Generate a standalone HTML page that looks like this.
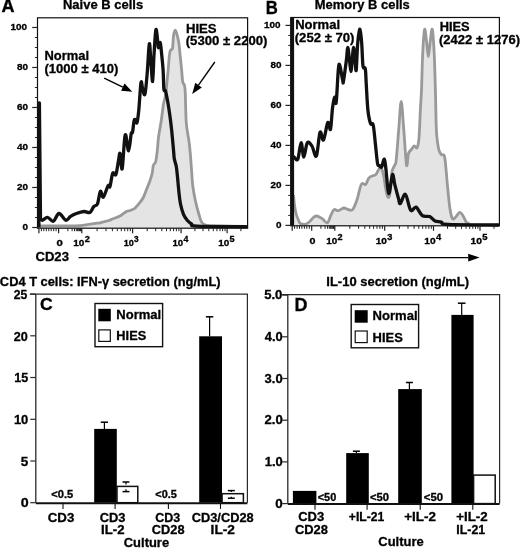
<!DOCTYPE html>
<html><head><meta charset="utf-8"><style>
html,body{margin:0;padding:0;background:#fff;}
body{width:520px;height:548px;overflow:hidden;font-family:"Liberation Sans",sans-serif;}
svg{display:block;filter:grayscale(100%);}
</style></head><body>
<svg width="520" height="548" viewBox="0 0 520 548">
<rect width="520" height="548" fill="#fff"/>
<g font-family="Liberation Sans, sans-serif" font-weight="bold" fill="#000">
<path d="M38.50,226.00 C42.08,225.98 53.08,225.97 60.00,225.90 C66.92,225.83 74.38,225.98 80.00,225.60 C85.62,225.22 90.37,224.07 93.70,223.60 C97.03,223.13 98.12,223.15 100.00,222.80 C101.88,222.45 103.50,221.88 105.00,221.50 C106.50,221.12 107.67,220.95 109.00,220.50 C110.33,220.05 111.17,219.55 113.00,218.80 C114.83,218.05 117.77,217.22 120.00,216.00 C122.23,214.78 124.73,212.42 126.40,211.50 C128.07,210.58 128.63,211.00 130.00,210.50 C131.37,210.00 132.93,209.85 134.60,208.50 C136.27,207.15 138.55,204.23 140.00,202.40 C141.45,200.57 142.20,199.70 143.30,197.50 C144.40,195.30 145.50,191.95 146.60,189.20 C147.70,186.45 148.95,183.73 149.90,181.00 C150.85,178.27 151.73,175.38 152.30,172.80 C152.87,170.22 152.75,167.30 153.30,165.50 C153.85,163.70 155.05,163.58 155.60,162.00 C156.15,160.42 156.28,158.17 156.60,156.00 C156.92,153.83 157.23,151.67 157.50,149.00 C157.77,146.33 157.90,142.83 158.20,140.00 C158.50,137.17 158.80,135.17 159.30,132.00 C159.80,128.83 160.50,125.67 161.20,121.00 C161.90,116.33 162.77,108.33 163.50,104.00 C164.23,99.67 165.03,98.58 165.60,95.00 C166.17,91.42 166.47,86.72 166.90,82.50 C167.33,78.28 167.77,74.38 168.20,69.70 C168.63,65.02 169.08,57.68 169.50,54.40 C169.92,51.12 170.20,50.98 170.70,50.00 C171.20,49.02 172.07,50.50 172.50,48.50 C172.93,46.50 173.03,40.65 173.30,38.00 C173.57,35.35 173.78,33.90 174.10,32.60 C174.42,31.30 174.82,30.23 175.20,30.20 C175.58,30.17 175.97,31.13 176.40,32.40 C176.83,33.67 177.37,35.83 177.80,37.80 C178.23,39.77 178.58,41.00 179.00,44.20 C179.42,47.40 179.87,52.75 180.30,57.00 C180.73,61.25 181.22,65.70 181.60,69.70 C181.98,73.70 182.28,78.68 182.60,81.00 C182.92,83.32 183.18,82.85 183.50,83.60 C183.82,84.35 184.22,84.20 184.50,85.50 C184.78,86.80 185.00,87.65 185.20,91.40 C185.40,95.15 185.50,102.50 185.70,108.00 C185.90,113.50 185.82,118.57 186.40,124.40 C186.98,130.23 188.52,137.73 189.20,143.00 C189.88,148.27 190.12,151.60 190.50,156.00 C190.88,160.40 191.12,164.40 191.50,169.40 C191.88,174.40 192.13,180.70 192.80,186.00 C193.47,191.30 194.40,196.20 195.50,201.20 C196.60,206.20 198.32,212.40 199.40,216.00 C200.48,219.60 200.90,221.25 202.00,222.80 C203.10,224.35 204.67,224.80 206.00,225.30 C207.33,225.80 203.33,225.63 210.00,225.80 C216.67,225.97 240.00,226.22 246.00,226.30 L246,228.2 L38.5,228.2 Z" fill="#e4e4e4" stroke="none"/>
<path d="M38.50,226.00 C42.08,225.98 53.08,225.97 60.00,225.90 C66.92,225.83 74.38,225.98 80.00,225.60 C85.62,225.22 90.37,224.07 93.70,223.60 C97.03,223.13 98.12,223.15 100.00,222.80 C101.88,222.45 103.50,221.88 105.00,221.50 C106.50,221.12 107.67,220.95 109.00,220.50 C110.33,220.05 111.17,219.55 113.00,218.80 C114.83,218.05 117.77,217.22 120.00,216.00 C122.23,214.78 124.73,212.42 126.40,211.50 C128.07,210.58 128.63,211.00 130.00,210.50 C131.37,210.00 132.93,209.85 134.60,208.50 C136.27,207.15 138.55,204.23 140.00,202.40 C141.45,200.57 142.20,199.70 143.30,197.50 C144.40,195.30 145.50,191.95 146.60,189.20 C147.70,186.45 148.95,183.73 149.90,181.00 C150.85,178.27 151.73,175.38 152.30,172.80 C152.87,170.22 152.75,167.30 153.30,165.50 C153.85,163.70 155.05,163.58 155.60,162.00 C156.15,160.42 156.28,158.17 156.60,156.00 C156.92,153.83 157.23,151.67 157.50,149.00 C157.77,146.33 157.90,142.83 158.20,140.00 C158.50,137.17 158.80,135.17 159.30,132.00 C159.80,128.83 160.50,125.67 161.20,121.00 C161.90,116.33 162.77,108.33 163.50,104.00 C164.23,99.67 165.03,98.58 165.60,95.00 C166.17,91.42 166.47,86.72 166.90,82.50 C167.33,78.28 167.77,74.38 168.20,69.70 C168.63,65.02 169.08,57.68 169.50,54.40 C169.92,51.12 170.20,50.98 170.70,50.00 C171.20,49.02 172.07,50.50 172.50,48.50 C172.93,46.50 173.03,40.65 173.30,38.00 C173.57,35.35 173.78,33.90 174.10,32.60 C174.42,31.30 174.82,30.23 175.20,30.20 C175.58,30.17 175.97,31.13 176.40,32.40 C176.83,33.67 177.37,35.83 177.80,37.80 C178.23,39.77 178.58,41.00 179.00,44.20 C179.42,47.40 179.87,52.75 180.30,57.00 C180.73,61.25 181.22,65.70 181.60,69.70 C181.98,73.70 182.28,78.68 182.60,81.00 C182.92,83.32 183.18,82.85 183.50,83.60 C183.82,84.35 184.22,84.20 184.50,85.50 C184.78,86.80 185.00,87.65 185.20,91.40 C185.40,95.15 185.50,102.50 185.70,108.00 C185.90,113.50 185.82,118.57 186.40,124.40 C186.98,130.23 188.52,137.73 189.20,143.00 C189.88,148.27 190.12,151.60 190.50,156.00 C190.88,160.40 191.12,164.40 191.50,169.40 C191.88,174.40 192.13,180.70 192.80,186.00 C193.47,191.30 194.40,196.20 195.50,201.20 C196.60,206.20 198.32,212.40 199.40,216.00 C200.48,219.60 200.90,221.25 202.00,222.80 C203.10,224.35 204.67,224.80 206.00,225.30 C207.33,225.80 203.33,225.63 210.00,225.80 C216.67,225.97 240.00,226.22 246.00,226.30" fill="none" stroke="#999" stroke-width="2.8" stroke-linejoin="round" stroke-linecap="round"/>
<path d="M40.50,219.00 C40.87,219.20 41.53,220.48 42.70,220.20 C43.87,219.92 45.73,217.13 47.50,217.30 C49.27,217.47 51.38,221.83 53.30,221.20 C55.22,220.57 56.92,213.67 59.00,213.50 C61.08,213.33 63.87,219.73 65.80,220.20 C67.73,220.67 68.83,217.42 70.60,216.30 C72.37,215.18 74.17,214.30 76.40,213.50 C78.63,212.70 81.77,211.67 84.00,211.50 C86.23,211.33 88.18,213.30 89.80,212.50 C91.42,211.70 92.42,208.15 93.70,206.70 C94.98,205.25 96.38,206.37 97.50,203.80 C98.62,201.23 99.43,192.42 100.40,191.30 C101.37,190.18 102.02,198.05 103.30,197.10 C104.58,196.15 106.98,187.37 108.10,185.60 C109.22,183.83 109.23,188.57 110.00,186.50 C110.77,184.43 111.72,175.20 112.70,173.20 C113.68,171.20 114.95,176.52 115.90,174.50 C116.85,172.48 117.70,164.62 118.40,161.10 C119.10,157.58 119.47,152.13 120.10,153.40 C120.73,154.67 121.35,171.78 122.20,168.70 C123.05,165.62 124.13,137.87 125.20,134.90 C126.27,131.93 127.60,151.12 128.60,150.90 C129.60,150.68 130.55,136.68 131.20,133.60 C131.85,130.52 131.97,134.73 132.50,132.40 C133.03,130.07 133.67,121.20 134.40,119.60 C135.13,118.00 136.17,124.40 136.90,122.80 C137.63,121.20 138.12,116.70 138.80,110.00 C139.48,103.30 140.35,86.07 141.00,82.60 C141.65,79.13 142.05,87.25 142.70,89.20 C143.35,91.15 144.17,96.73 144.90,94.30 C145.63,91.87 146.37,82.98 147.10,74.60 C147.83,66.22 148.68,46.43 149.30,44.00 C149.92,41.57 150.25,53.75 150.80,60.00 C151.35,66.25 152.07,82.33 152.60,81.50 C153.13,80.67 153.45,63.65 154.00,55.00 C154.55,46.35 155.27,31.75 155.90,29.60 C156.53,27.45 157.40,39.05 157.80,42.10 C158.20,45.15 157.90,47.82 158.30,47.90 C158.70,47.98 159.65,41.63 160.20,42.60 C160.75,43.57 161.12,49.13 161.60,53.70 C162.08,58.27 162.72,64.08 163.10,70.00 C163.48,75.92 163.52,85.75 163.90,89.20 C164.28,92.65 164.78,88.73 165.40,90.70 C166.02,92.67 166.87,96.95 167.60,101.00 C168.33,105.05 169.13,110.22 169.80,115.00 C170.47,119.78 170.98,123.87 171.60,129.70 C172.22,135.53 173.05,145.15 173.50,150.00 C173.95,154.85 173.85,156.13 174.30,158.80 C174.75,161.47 175.70,163.30 176.20,166.00 C176.70,168.70 176.83,170.50 177.30,175.00 C177.77,179.50 178.47,188.17 179.00,193.00 C179.53,197.83 179.75,200.43 180.50,204.00 C181.25,207.57 182.42,211.73 183.50,214.40 C184.58,217.07 185.67,218.40 187.00,220.00 C188.33,221.60 189.83,222.97 191.50,224.00 C193.17,225.03 187.92,225.77 197.00,226.20 C206.08,226.63 237.83,226.53 246.00,226.60" fill="none" stroke="#111" stroke-width="3.3" stroke-linejoin="round" stroke-linecap="round"/>
<polyline points="38.9,227.5 38.9,102.8 39.4,102.8 40.5,219.0 41.5,219.8" fill="none" stroke="#111" stroke-width="3.3" stroke-linejoin="round"/>
<rect x="37.5" y="17.8" width="210.1" height="210.39999999999998" fill="none" stroke="#111" stroke-width="1.2"/>
<line x1="32.2" y1="227.5" x2="37.5" y2="227.5" stroke="#222" stroke-width="1.2"/>
<line x1="34.9" y1="217.5" x2="37.5" y2="217.5" stroke="#222" stroke-width="1"/>
<line x1="34.9" y1="207.5" x2="37.5" y2="207.5" stroke="#222" stroke-width="1"/>
<line x1="34.9" y1="197.5" x2="37.5" y2="197.5" stroke="#222" stroke-width="1"/>
<line x1="32.2" y1="187.5" x2="37.5" y2="187.5" stroke="#222" stroke-width="1.2"/>
<line x1="34.9" y1="177.5" x2="37.5" y2="177.5" stroke="#222" stroke-width="1"/>
<line x1="34.9" y1="167.5" x2="37.5" y2="167.5" stroke="#222" stroke-width="1"/>
<line x1="34.9" y1="157.5" x2="37.5" y2="157.5" stroke="#222" stroke-width="1"/>
<line x1="32.2" y1="147.5" x2="37.5" y2="147.5" stroke="#222" stroke-width="1.2"/>
<line x1="34.9" y1="137.5" x2="37.5" y2="137.5" stroke="#222" stroke-width="1"/>
<line x1="34.9" y1="127.5" x2="37.5" y2="127.5" stroke="#222" stroke-width="1"/>
<line x1="34.9" y1="117.5" x2="37.5" y2="117.5" stroke="#222" stroke-width="1"/>
<line x1="32.2" y1="107.5" x2="37.5" y2="107.5" stroke="#222" stroke-width="1.2"/>
<line x1="34.9" y1="97.5" x2="37.5" y2="97.5" stroke="#222" stroke-width="1"/>
<line x1="34.9" y1="87.5" x2="37.5" y2="87.5" stroke="#222" stroke-width="1"/>
<line x1="34.9" y1="77.5" x2="37.5" y2="77.5" stroke="#222" stroke-width="1"/>
<line x1="32.2" y1="67.5" x2="37.5" y2="67.5" stroke="#222" stroke-width="1.2"/>
<line x1="34.9" y1="57.5" x2="37.5" y2="57.5" stroke="#222" stroke-width="1"/>
<line x1="34.9" y1="47.5" x2="37.5" y2="47.5" stroke="#222" stroke-width="1"/>
<line x1="34.9" y1="37.5" x2="37.5" y2="37.5" stroke="#222" stroke-width="1"/>
<line x1="32.2" y1="27.5" x2="37.5" y2="27.5" stroke="#222" stroke-width="1.2"/>
<line x1="38.9" y1="228.2" x2="38.9" y2="233.2" stroke="#222" stroke-width="1.2"/>
<line x1="58.6" y1="228.2" x2="58.6" y2="233.2" stroke="#222" stroke-width="1.2"/>
<line x1="81.8" y1="228.2" x2="81.8" y2="233.2" stroke="#222" stroke-width="1.2"/>
<line x1="132.6" y1="228.2" x2="132.6" y2="233.2" stroke="#222" stroke-width="1.2"/>
<line x1="181.1" y1="228.2" x2="181.1" y2="233.2" stroke="#222" stroke-width="1.2"/>
<line x1="227.1" y1="228.2" x2="227.1" y2="233.2" stroke="#222" stroke-width="1.2"/>
<line x1="41.4" y1="228.2" x2="41.4" y2="231.2" stroke="#222" stroke-width="1"/>
<line x1="43.8" y1="228.2" x2="43.8" y2="231.2" stroke="#222" stroke-width="1"/>
<line x1="46.3" y1="228.2" x2="46.3" y2="231.2" stroke="#222" stroke-width="1"/>
<line x1="48.8" y1="228.2" x2="48.8" y2="231.2" stroke="#222" stroke-width="1"/>
<line x1="51.2" y1="228.2" x2="51.2" y2="231.2" stroke="#222" stroke-width="1"/>
<line x1="53.7" y1="228.2" x2="53.7" y2="231.2" stroke="#222" stroke-width="1"/>
<line x1="56.1" y1="228.2" x2="56.1" y2="231.2" stroke="#222" stroke-width="1"/>
<line x1="67.9" y1="228.2" x2="67.9" y2="231.2" stroke="#222" stroke-width="1"/>
<line x1="72.1" y1="228.2" x2="72.1" y2="231.2" stroke="#222" stroke-width="1"/>
<line x1="74.5" y1="228.2" x2="74.5" y2="231.2" stroke="#222" stroke-width="1"/>
<line x1="76.3" y1="228.2" x2="76.3" y2="231.2" stroke="#222" stroke-width="1"/>
<line x1="77.6" y1="228.2" x2="77.6" y2="231.2" stroke="#222" stroke-width="1"/>
<line x1="78.7" y1="228.2" x2="78.7" y2="231.2" stroke="#222" stroke-width="1"/>
<line x1="79.6" y1="228.2" x2="79.6" y2="231.2" stroke="#222" stroke-width="1"/>
<line x1="80.5" y1="228.2" x2="80.5" y2="231.2" stroke="#222" stroke-width="1"/>
<line x1="81.2" y1="228.2" x2="81.2" y2="231.2" stroke="#222" stroke-width="1"/>
<line x1="97.1" y1="228.2" x2="97.1" y2="231.2" stroke="#222" stroke-width="1"/>
<line x1="106.0" y1="228.2" x2="106.0" y2="231.2" stroke="#222" stroke-width="1"/>
<line x1="112.4" y1="228.2" x2="112.4" y2="231.2" stroke="#222" stroke-width="1"/>
<line x1="117.3" y1="228.2" x2="117.3" y2="231.2" stroke="#222" stroke-width="1"/>
<line x1="121.3" y1="228.2" x2="121.3" y2="231.2" stroke="#222" stroke-width="1"/>
<line x1="124.7" y1="228.2" x2="124.7" y2="231.2" stroke="#222" stroke-width="1"/>
<line x1="127.7" y1="228.2" x2="127.7" y2="231.2" stroke="#222" stroke-width="1"/>
<line x1="130.3" y1="228.2" x2="130.3" y2="231.2" stroke="#222" stroke-width="1"/>
<line x1="147.2" y1="228.2" x2="147.2" y2="231.2" stroke="#222" stroke-width="1"/>
<line x1="155.7" y1="228.2" x2="155.7" y2="231.2" stroke="#222" stroke-width="1"/>
<line x1="161.8" y1="228.2" x2="161.8" y2="231.2" stroke="#222" stroke-width="1"/>
<line x1="166.5" y1="228.2" x2="166.5" y2="231.2" stroke="#222" stroke-width="1"/>
<line x1="170.3" y1="228.2" x2="170.3" y2="231.2" stroke="#222" stroke-width="1"/>
<line x1="173.6" y1="228.2" x2="173.6" y2="231.2" stroke="#222" stroke-width="1"/>
<line x1="176.4" y1="228.2" x2="176.4" y2="231.2" stroke="#222" stroke-width="1"/>
<line x1="178.9" y1="228.2" x2="178.9" y2="231.2" stroke="#222" stroke-width="1"/>
<line x1="194.9" y1="228.2" x2="194.9" y2="231.2" stroke="#222" stroke-width="1"/>
<line x1="203.0" y1="228.2" x2="203.0" y2="231.2" stroke="#222" stroke-width="1"/>
<line x1="208.8" y1="228.2" x2="208.8" y2="231.2" stroke="#222" stroke-width="1"/>
<line x1="213.3" y1="228.2" x2="213.3" y2="231.2" stroke="#222" stroke-width="1"/>
<line x1="216.9" y1="228.2" x2="216.9" y2="231.2" stroke="#222" stroke-width="1"/>
<line x1="220.0" y1="228.2" x2="220.0" y2="231.2" stroke="#222" stroke-width="1"/>
<line x1="222.6" y1="228.2" x2="222.6" y2="231.2" stroke="#222" stroke-width="1"/>
<line x1="225.0" y1="228.2" x2="225.0" y2="231.2" stroke="#222" stroke-width="1"/>
<line x1="240.9" y1="228.2" x2="240.9" y2="231.2" stroke="#222" stroke-width="1"/>
<path d="M293.60,196.00 C293.77,197.67 294.17,203.00 294.60,206.00 C295.03,209.00 295.65,211.87 296.20,214.00 C296.75,216.13 297.27,217.27 297.90,218.80 C298.53,220.33 299.15,222.30 300.00,223.20 C300.85,224.10 302.00,224.07 303.00,224.20 C304.00,224.33 304.92,224.40 306.00,224.00 C307.08,223.60 308.28,222.88 309.50,221.80 C310.72,220.72 312.13,218.47 313.30,217.50 C314.47,216.53 315.42,216.05 316.50,216.00 C317.58,215.95 318.75,216.67 319.80,217.20 C320.85,217.73 321.53,218.28 322.80,219.20 C324.07,220.12 326.03,223.40 327.40,222.70 C328.77,222.00 329.90,217.18 331.00,215.00 C332.10,212.82 332.78,210.32 334.00,209.60 C335.22,208.88 336.67,210.97 338.30,210.70 C339.93,210.43 342.18,208.20 343.80,208.00 C345.42,207.80 346.53,209.23 348.00,209.50 C349.47,209.77 351.10,211.23 352.60,209.60 C354.10,207.97 355.55,203.90 357.00,199.70 C358.45,195.50 359.85,186.95 361.30,184.40 C362.75,181.85 364.42,185.50 365.70,184.40 C366.98,183.30 367.73,179.27 369.00,177.80 C370.27,176.33 372.17,176.13 373.30,175.60 C374.43,175.07 374.90,175.62 375.80,174.60 C376.70,173.58 377.83,170.68 378.70,169.50 C379.57,168.32 380.20,166.58 381.00,167.50 C381.80,168.42 382.73,171.58 383.50,175.00 C384.27,178.42 384.93,184.45 385.60,188.00 C386.27,191.55 386.85,194.97 387.50,196.30 C388.15,197.63 388.95,198.22 389.50,196.00 C390.05,193.78 390.38,187.08 390.80,183.00 C391.22,178.92 391.38,174.42 392.00,171.50 C392.62,168.58 393.80,167.42 394.50,165.50 C395.20,163.58 395.48,166.17 396.20,160.00 C396.92,153.83 397.97,138.25 398.80,128.50 C399.63,118.75 400.38,101.50 401.20,101.50 C402.02,101.50 402.82,117.92 403.70,128.50 C404.58,139.08 405.70,160.83 406.50,165.00 C407.30,169.17 407.70,156.07 408.50,153.50 C409.30,150.93 410.35,150.88 411.30,149.60 C412.25,148.32 413.23,146.12 414.20,145.80 C415.17,145.48 416.30,149.00 417.10,147.70 C417.90,146.40 418.45,144.42 419.00,138.00 C419.55,131.58 419.98,117.20 420.40,109.20 C420.82,101.20 421.12,99.28 421.50,90.00 C421.88,80.72 422.18,63.60 422.70,53.50 C423.22,43.40 423.97,31.48 424.60,29.40 C425.23,27.32 425.87,36.48 426.50,41.00 C427.13,45.52 427.77,56.50 428.40,56.50 C429.03,56.50 429.65,45.52 430.30,41.00 C430.95,36.48 431.65,27.32 432.30,29.40 C432.95,31.48 433.68,43.40 434.20,53.50 C434.72,63.60 435.05,77.50 435.40,90.00 C435.75,102.50 435.95,119.83 436.30,128.50 C436.65,137.17 437.08,138.48 437.50,142.00 C437.92,145.52 438.18,147.52 438.80,149.60 C439.42,151.68 440.27,153.43 441.20,154.50 C442.13,155.57 443.60,153.58 444.40,156.00 C445.20,158.42 445.45,163.63 446.00,169.00 C446.55,174.37 447.03,181.53 447.70,188.20 C448.37,194.87 449.20,203.92 450.00,209.00 C450.80,214.08 451.55,217.37 452.50,218.70 C453.45,220.03 454.53,218.07 455.70,217.00 C456.87,215.93 458.30,212.55 459.50,212.30 C460.70,212.05 461.80,213.90 462.90,215.50 C464.00,217.10 465.17,220.57 466.10,221.90 C467.03,223.23 467.52,222.98 468.50,223.50 C469.48,224.02 467.08,224.75 472.00,225.00 C476.92,225.25 493.67,225.00 498.00,225.00 L498,225.8 L293.6,225.8 Z" fill="#e4e4e4" stroke="none"/>
<path d="M293.60,196.00 C293.77,197.67 294.17,203.00 294.60,206.00 C295.03,209.00 295.65,211.87 296.20,214.00 C296.75,216.13 297.27,217.27 297.90,218.80 C298.53,220.33 299.15,222.30 300.00,223.20 C300.85,224.10 302.00,224.07 303.00,224.20 C304.00,224.33 304.92,224.40 306.00,224.00 C307.08,223.60 308.28,222.88 309.50,221.80 C310.72,220.72 312.13,218.47 313.30,217.50 C314.47,216.53 315.42,216.05 316.50,216.00 C317.58,215.95 318.75,216.67 319.80,217.20 C320.85,217.73 321.53,218.28 322.80,219.20 C324.07,220.12 326.03,223.40 327.40,222.70 C328.77,222.00 329.90,217.18 331.00,215.00 C332.10,212.82 332.78,210.32 334.00,209.60 C335.22,208.88 336.67,210.97 338.30,210.70 C339.93,210.43 342.18,208.20 343.80,208.00 C345.42,207.80 346.53,209.23 348.00,209.50 C349.47,209.77 351.10,211.23 352.60,209.60 C354.10,207.97 355.55,203.90 357.00,199.70 C358.45,195.50 359.85,186.95 361.30,184.40 C362.75,181.85 364.42,185.50 365.70,184.40 C366.98,183.30 367.73,179.27 369.00,177.80 C370.27,176.33 372.17,176.13 373.30,175.60 C374.43,175.07 374.90,175.62 375.80,174.60 C376.70,173.58 377.83,170.68 378.70,169.50 C379.57,168.32 380.20,166.58 381.00,167.50 C381.80,168.42 382.73,171.58 383.50,175.00 C384.27,178.42 384.93,184.45 385.60,188.00 C386.27,191.55 386.85,194.97 387.50,196.30 C388.15,197.63 388.95,198.22 389.50,196.00 C390.05,193.78 390.38,187.08 390.80,183.00 C391.22,178.92 391.38,174.42 392.00,171.50 C392.62,168.58 393.80,167.42 394.50,165.50 C395.20,163.58 395.48,166.17 396.20,160.00 C396.92,153.83 397.97,138.25 398.80,128.50 C399.63,118.75 400.38,101.50 401.20,101.50 C402.02,101.50 402.82,117.92 403.70,128.50 C404.58,139.08 405.70,160.83 406.50,165.00 C407.30,169.17 407.70,156.07 408.50,153.50 C409.30,150.93 410.35,150.88 411.30,149.60 C412.25,148.32 413.23,146.12 414.20,145.80 C415.17,145.48 416.30,149.00 417.10,147.70 C417.90,146.40 418.45,144.42 419.00,138.00 C419.55,131.58 419.98,117.20 420.40,109.20 C420.82,101.20 421.12,99.28 421.50,90.00 C421.88,80.72 422.18,63.60 422.70,53.50 C423.22,43.40 423.97,31.48 424.60,29.40 C425.23,27.32 425.87,36.48 426.50,41.00 C427.13,45.52 427.77,56.50 428.40,56.50 C429.03,56.50 429.65,45.52 430.30,41.00 C430.95,36.48 431.65,27.32 432.30,29.40 C432.95,31.48 433.68,43.40 434.20,53.50 C434.72,63.60 435.05,77.50 435.40,90.00 C435.75,102.50 435.95,119.83 436.30,128.50 C436.65,137.17 437.08,138.48 437.50,142.00 C437.92,145.52 438.18,147.52 438.80,149.60 C439.42,151.68 440.27,153.43 441.20,154.50 C442.13,155.57 443.60,153.58 444.40,156.00 C445.20,158.42 445.45,163.63 446.00,169.00 C446.55,174.37 447.03,181.53 447.70,188.20 C448.37,194.87 449.20,203.92 450.00,209.00 C450.80,214.08 451.55,217.37 452.50,218.70 C453.45,220.03 454.53,218.07 455.70,217.00 C456.87,215.93 458.30,212.55 459.50,212.30 C460.70,212.05 461.80,213.90 462.90,215.50 C464.00,217.10 465.17,220.57 466.10,221.90 C467.03,223.23 467.52,222.98 468.50,223.50 C469.48,224.02 467.08,224.75 472.00,225.00 C476.92,225.25 493.67,225.00 498.00,225.00" fill="none" stroke="#999" stroke-width="2.8" stroke-linejoin="round" stroke-linecap="round"/>
<path d="M294.00,157.00 C294.63,157.37 296.62,161.57 297.80,159.20 C298.98,156.83 300.10,143.17 301.10,142.80 C302.10,142.43 302.77,157.00 303.80,157.00 C304.83,157.00 305.93,144.62 307.30,142.80 C308.67,140.98 310.48,143.90 312.00,146.10 C313.52,148.30 315.07,158.30 316.40,156.00 C317.73,153.70 318.82,134.97 320.00,132.30 C321.18,129.63 322.20,141.63 323.50,140.00 C324.80,138.37 326.63,124.28 327.80,122.50 C328.97,120.72 329.72,131.68 330.50,129.30 C331.28,126.92 331.80,113.55 332.50,108.20 C333.20,102.85 334.08,98.18 334.70,97.20 C335.32,96.22 335.58,107.03 336.20,102.30 C336.82,97.57 337.78,74.88 338.40,68.80 C339.02,62.72 339.18,63.87 339.90,65.80 C340.62,67.73 342.10,77.87 342.70,80.40 C343.30,82.93 342.88,84.40 343.50,81.00 C344.12,77.60 345.68,65.62 346.40,60.00 C347.12,54.38 347.28,47.30 347.80,47.30 C348.32,47.30 348.98,55.97 349.50,60.00 C350.02,64.03 350.45,71.50 350.90,71.50 C351.35,71.50 351.75,64.03 352.20,60.00 C352.65,55.97 353.13,47.30 353.60,47.30 C354.07,47.30 354.57,56.18 355.00,60.00 C355.43,63.82 355.77,72.77 356.20,70.20 C356.63,67.63 357.03,51.45 357.60,44.60 C358.17,37.75 358.93,29.55 359.60,29.10 C360.27,28.65 361.03,35.73 361.60,41.90 C362.17,48.07 362.38,61.62 363.00,66.10 C363.62,70.58 364.75,65.65 365.30,68.80 C365.85,71.95 365.87,78.13 366.30,85.00 C366.73,91.87 367.20,103.58 367.90,110.00 C368.60,116.42 369.62,121.00 370.50,123.50 C371.38,126.00 372.37,121.42 373.20,125.00 C374.03,128.58 374.78,138.63 375.50,145.00 C376.22,151.37 376.87,159.78 377.50,163.20 C378.13,166.62 378.62,164.88 379.30,165.50 C379.98,166.12 380.77,167.97 381.60,166.90 C382.43,165.83 383.58,158.75 384.30,159.10 C385.02,159.45 385.28,163.83 385.90,169.00 C386.52,174.17 387.40,186.27 388.00,190.10 C388.60,193.93 388.75,194.58 389.50,192.00 C390.25,189.42 391.62,175.82 392.50,174.60 C393.38,173.38 393.80,180.72 394.80,184.70 C395.80,188.68 397.58,195.37 398.50,198.50 C399.42,201.63 399.15,204.18 400.30,203.50 C401.45,202.82 403.67,193.27 405.40,194.40 C407.13,195.53 408.93,208.18 410.70,210.30 C412.47,212.42 414.07,206.22 416.00,207.10 C417.93,207.98 420.02,214.02 422.30,215.60 C424.58,217.18 427.58,215.72 429.70,216.60 C431.82,217.48 433.07,220.00 435.00,220.90 C436.93,221.80 439.18,221.40 441.30,222.00 C443.42,222.60 438.25,224.00 447.70,224.50 C457.15,225.00 489.62,224.92 498.00,225.00" fill="none" stroke="#111" stroke-width="3.3" stroke-linejoin="round" stroke-linecap="round"/>
<rect x="290.3" y="17.5" width="3.8000000000000114" height="208.3" fill="#111"/>
<rect x="290.8" y="17.5" width="208.59999999999997" height="208.3" fill="none" stroke="#111" stroke-width="1.2"/>
<line x1="285.5" y1="225.4" x2="290.8" y2="225.4" stroke="#222" stroke-width="1.2"/>
<line x1="288.2" y1="215.4" x2="290.8" y2="215.4" stroke="#222" stroke-width="1"/>
<line x1="288.2" y1="205.4" x2="290.8" y2="205.4" stroke="#222" stroke-width="1"/>
<line x1="288.2" y1="195.4" x2="290.8" y2="195.4" stroke="#222" stroke-width="1"/>
<line x1="285.5" y1="185.4" x2="290.8" y2="185.4" stroke="#222" stroke-width="1.2"/>
<line x1="288.2" y1="175.4" x2="290.8" y2="175.4" stroke="#222" stroke-width="1"/>
<line x1="288.2" y1="165.4" x2="290.8" y2="165.4" stroke="#222" stroke-width="1"/>
<line x1="288.2" y1="155.4" x2="290.8" y2="155.4" stroke="#222" stroke-width="1"/>
<line x1="285.5" y1="145.4" x2="290.8" y2="145.4" stroke="#222" stroke-width="1.2"/>
<line x1="288.2" y1="135.4" x2="290.8" y2="135.4" stroke="#222" stroke-width="1"/>
<line x1="288.2" y1="125.4" x2="290.8" y2="125.4" stroke="#222" stroke-width="1"/>
<line x1="288.2" y1="115.4" x2="290.8" y2="115.4" stroke="#222" stroke-width="1"/>
<line x1="285.5" y1="105.4" x2="290.8" y2="105.4" stroke="#222" stroke-width="1.2"/>
<line x1="288.2" y1="95.4" x2="290.8" y2="95.4" stroke="#222" stroke-width="1"/>
<line x1="288.2" y1="85.4" x2="290.8" y2="85.4" stroke="#222" stroke-width="1"/>
<line x1="288.2" y1="75.4" x2="290.8" y2="75.4" stroke="#222" stroke-width="1"/>
<line x1="285.5" y1="65.4" x2="290.8" y2="65.4" stroke="#222" stroke-width="1.2"/>
<line x1="288.2" y1="55.4" x2="290.8" y2="55.4" stroke="#222" stroke-width="1"/>
<line x1="288.2" y1="45.4" x2="290.8" y2="45.4" stroke="#222" stroke-width="1"/>
<line x1="288.2" y1="35.4" x2="290.8" y2="35.4" stroke="#222" stroke-width="1"/>
<line x1="285.5" y1="25.4" x2="290.8" y2="25.4" stroke="#222" stroke-width="1.2"/>
<line x1="292.2" y1="225.8" x2="292.2" y2="230.8" stroke="#222" stroke-width="1.2"/>
<line x1="311.7" y1="225.8" x2="311.7" y2="230.8" stroke="#222" stroke-width="1.2"/>
<line x1="334.8" y1="225.8" x2="334.8" y2="230.8" stroke="#222" stroke-width="1.2"/>
<line x1="384.7" y1="225.8" x2="384.7" y2="230.8" stroke="#222" stroke-width="1.2"/>
<line x1="433.5" y1="225.8" x2="433.5" y2="230.8" stroke="#222" stroke-width="1.2"/>
<line x1="480.0" y1="225.8" x2="480.0" y2="230.8" stroke="#222" stroke-width="1.2"/>
<line x1="294.6" y1="225.8" x2="294.6" y2="228.8" stroke="#222" stroke-width="1"/>
<line x1="297.1" y1="225.8" x2="297.1" y2="228.8" stroke="#222" stroke-width="1"/>
<line x1="299.5" y1="225.8" x2="299.5" y2="228.8" stroke="#222" stroke-width="1"/>
<line x1="301.9" y1="225.8" x2="301.9" y2="228.8" stroke="#222" stroke-width="1"/>
<line x1="304.4" y1="225.8" x2="304.4" y2="228.8" stroke="#222" stroke-width="1"/>
<line x1="306.8" y1="225.8" x2="306.8" y2="228.8" stroke="#222" stroke-width="1"/>
<line x1="309.3" y1="225.8" x2="309.3" y2="228.8" stroke="#222" stroke-width="1"/>
<line x1="320.9" y1="225.8" x2="320.9" y2="228.8" stroke="#222" stroke-width="1"/>
<line x1="325.1" y1="225.8" x2="325.1" y2="228.8" stroke="#222" stroke-width="1"/>
<line x1="327.6" y1="225.8" x2="327.6" y2="228.8" stroke="#222" stroke-width="1"/>
<line x1="329.3" y1="225.8" x2="329.3" y2="228.8" stroke="#222" stroke-width="1"/>
<line x1="330.6" y1="225.8" x2="330.6" y2="228.8" stroke="#222" stroke-width="1"/>
<line x1="331.7" y1="225.8" x2="331.7" y2="228.8" stroke="#222" stroke-width="1"/>
<line x1="332.7" y1="225.8" x2="332.7" y2="228.8" stroke="#222" stroke-width="1"/>
<line x1="333.5" y1="225.8" x2="333.5" y2="228.8" stroke="#222" stroke-width="1"/>
<line x1="334.2" y1="225.8" x2="334.2" y2="228.8" stroke="#222" stroke-width="1"/>
<line x1="349.8" y1="225.8" x2="349.8" y2="228.8" stroke="#222" stroke-width="1"/>
<line x1="358.6" y1="225.8" x2="358.6" y2="228.8" stroke="#222" stroke-width="1"/>
<line x1="364.8" y1="225.8" x2="364.8" y2="228.8" stroke="#222" stroke-width="1"/>
<line x1="369.7" y1="225.8" x2="369.7" y2="228.8" stroke="#222" stroke-width="1"/>
<line x1="373.6" y1="225.8" x2="373.6" y2="228.8" stroke="#222" stroke-width="1"/>
<line x1="377.0" y1="225.8" x2="377.0" y2="228.8" stroke="#222" stroke-width="1"/>
<line x1="379.9" y1="225.8" x2="379.9" y2="228.8" stroke="#222" stroke-width="1"/>
<line x1="382.4" y1="225.8" x2="382.4" y2="228.8" stroke="#222" stroke-width="1"/>
<line x1="399.4" y1="225.8" x2="399.4" y2="228.8" stroke="#222" stroke-width="1"/>
<line x1="408.0" y1="225.8" x2="408.0" y2="228.8" stroke="#222" stroke-width="1"/>
<line x1="414.1" y1="225.8" x2="414.1" y2="228.8" stroke="#222" stroke-width="1"/>
<line x1="418.8" y1="225.8" x2="418.8" y2="228.8" stroke="#222" stroke-width="1"/>
<line x1="422.7" y1="225.8" x2="422.7" y2="228.8" stroke="#222" stroke-width="1"/>
<line x1="425.9" y1="225.8" x2="425.9" y2="228.8" stroke="#222" stroke-width="1"/>
<line x1="428.8" y1="225.8" x2="428.8" y2="228.8" stroke="#222" stroke-width="1"/>
<line x1="431.3" y1="225.8" x2="431.3" y2="228.8" stroke="#222" stroke-width="1"/>
<line x1="447.5" y1="225.8" x2="447.5" y2="228.8" stroke="#222" stroke-width="1"/>
<line x1="455.7" y1="225.8" x2="455.7" y2="228.8" stroke="#222" stroke-width="1"/>
<line x1="461.5" y1="225.8" x2="461.5" y2="228.8" stroke="#222" stroke-width="1"/>
<line x1="466.0" y1="225.8" x2="466.0" y2="228.8" stroke="#222" stroke-width="1"/>
<line x1="469.7" y1="225.8" x2="469.7" y2="228.8" stroke="#222" stroke-width="1"/>
<line x1="472.8" y1="225.8" x2="472.8" y2="228.8" stroke="#222" stroke-width="1"/>
<line x1="475.5" y1="225.8" x2="475.5" y2="228.8" stroke="#222" stroke-width="1"/>
<line x1="477.9" y1="225.8" x2="477.9" y2="228.8" stroke="#222" stroke-width="1"/>
<line x1="494.0" y1="225.8" x2="494.0" y2="228.8" stroke="#222" stroke-width="1"/>
<text transform="translate(1.55,12.10) scale(1.0255,1)" font-size="17.59" fill="#000" stroke="#000" stroke-width="0.3">A</text>
<text transform="translate(62.93,9.40) scale(1.0060,1)" font-size="12.94" fill="#000" stroke="#000" stroke-width="0.3">Naive B cells</text>
<text transform="translate(265.68,13.80) scale(0.9280,1)" font-size="18.02" fill="#000" stroke="#000" stroke-width="0.3">B</text>
<text transform="translate(314.83,9.30) scale(1.0492,1)" font-size="12.35" fill="#000" stroke="#000" stroke-width="0.3">Memory B cells</text>
<text transform="translate(10.51,30.25) scale(1.0800,1)" font-size="9.16" fill="#000" stroke="#000" stroke-width="0.3">100</text>
<text transform="translate(17.01,70.25) scale(1.0800,1)" font-size="9.16" fill="#000" stroke="#000" stroke-width="0.3">80</text>
<text transform="translate(17.01,110.25) scale(1.0800,1)" font-size="9.16" fill="#000" stroke="#000" stroke-width="0.3">60</text>
<text transform="translate(17.01,150.25) scale(1.0800,1)" font-size="9.16" fill="#000" stroke="#000" stroke-width="0.3">40</text>
<text transform="translate(17.01,190.25) scale(1.0800,1)" font-size="9.16" fill="#000" stroke="#000" stroke-width="0.3">20</text>
<text transform="translate(22.51,230.25) scale(1.0800,1)" font-size="9.16" fill="#000" stroke="#000" stroke-width="0.3">0</text>
<text transform="translate(264.11,28.15) scale(1.0800,1)" font-size="9.16" fill="#000" stroke="#000" stroke-width="0.3">100</text>
<text transform="translate(270.61,68.15) scale(1.0800,1)" font-size="9.16" fill="#000" stroke="#000" stroke-width="0.3">80</text>
<text transform="translate(270.61,108.15) scale(1.0800,1)" font-size="9.16" fill="#000" stroke="#000" stroke-width="0.3">60</text>
<text transform="translate(270.61,148.15) scale(1.0800,1)" font-size="9.16" fill="#000" stroke="#000" stroke-width="0.3">40</text>
<text transform="translate(270.61,188.15) scale(1.0800,1)" font-size="9.16" fill="#000" stroke="#000" stroke-width="0.3">20</text>
<text transform="translate(275.91,228.15) scale(1.0800,1)" font-size="9.16" fill="#000" stroke="#000" stroke-width="0.3">0</text>
<text transform="translate(56.45,246.40) scale(1.2806,1)" font-size="8.87" fill="#000" stroke="#000" stroke-width="0.3">0</text>
<text transform="translate(73.17,246.40) scale(1.1301,1)" font-size="8.87" stroke="#000" stroke-width="0.3">10<tspan dx="0.3" dy="-4.0" font-size="8.14">2</tspan></text>
<text transform="translate(123.63,246.40) scale(1.0263,1)" font-size="8.87" stroke="#000" stroke-width="0.3">10<tspan dx="0.3" dy="-4.0" font-size="8.14">3</tspan></text>
<text transform="translate(172.49,246.40) scale(1.0861,1)" font-size="8.87" stroke="#000" stroke-width="0.3">10<tspan dx="0.3" dy="-4.0" font-size="8.14">4</tspan></text>
<text transform="translate(218.17,246.40) scale(1.1220,1)" font-size="8.87" stroke="#000" stroke-width="0.3">10<tspan dx="0.3" dy="-4.0" font-size="8.14">5</tspan></text>
<text transform="translate(309.58,244.30) scale(1.2095,1)" font-size="8.87" fill="#000" stroke="#000" stroke-width="0.3">0</text>
<text transform="translate(326.28,244.30) scale(1.1156,1)" font-size="8.87" stroke="#000" stroke-width="0.3">10<tspan dx="0.3" dy="-4.0" font-size="8.14">2</tspan></text>
<text transform="translate(375.77,244.30) scale(1.1347,1)" font-size="8.87" stroke="#000" stroke-width="0.3">10<tspan dx="0.3" dy="-4.0" font-size="8.14">3</tspan></text>
<text transform="translate(424.36,244.30) scale(1.1500,1)" font-size="8.87" stroke="#000" stroke-width="0.3">10<tspan dx="0.3" dy="-4.0" font-size="8.14">4</tspan></text>
<text transform="translate(470.55,244.30) scale(1.1579,1)" font-size="8.87" stroke="#000" stroke-width="0.3">10<tspan dx="0.3" dy="-4.0" font-size="8.14">5</tspan></text>
<text transform="translate(44.53,60.30) scale(1.0003,1)" font-size="12.94" fill="#000" stroke="#000" stroke-width="0.3">Normal</text>
<text transform="translate(44.45,73.40) scale(1.0353,1)" font-size="12.60" fill="#000" stroke="#000" stroke-width="0.3">(1000 ± 410)</text>
<text transform="translate(185.92,32.60) scale(1.0281,1)" font-size="12.79" fill="#000" stroke="#000" stroke-width="0.3">HIES</text>
<text transform="translate(185.74,44.90) scale(1.0557,1)" font-size="12.46" fill="#000" stroke="#000" stroke-width="0.3">(5300 ± 2200)</text>
<text transform="translate(295.13,28.80) scale(1.0187,1)" font-size="12.79" fill="#000" stroke="#000" stroke-width="0.3">Normal</text>
<text transform="translate(294.75,41.60) scale(1.0427,1)" font-size="12.60" fill="#000" stroke="#000" stroke-width="0.3">(252 ± 70)</text>
<text transform="translate(439.64,30.90) scale(1.0513,1)" font-size="12.21" fill="#000" stroke="#000" stroke-width="0.3">HIES</text>
<text transform="translate(438.95,44.30) scale(1.0242,1)" font-size="12.75" fill="#000" stroke="#000" stroke-width="0.3">(2422 ± 1276)</text>
<line x1="104.2" y1="78.2" x2="122.8" y2="87.2" stroke="#000" stroke-width="1.35"/>
<polygon points="132.3,91.7 121.1,90.7 124.5,83.6" fill="#000"/>
<line x1="214.8" y1="62" x2="198.5" y2="85.1" stroke="#000" stroke-width="1.35"/>
<polygon points="192.2,94.1 195.3,82.8 201.8,87.4" fill="#000"/>
<text transform="translate(35.46,261.00) scale(1.0020,1)" font-size="13.08" fill="#000" stroke="#000" stroke-width="0.3">CD23</text>
<line x1="78.6" y1="257.6" x2="468.2" y2="257.6" stroke="#000" stroke-width="1.1"/>
<polygon points="479.7,257.6 468.2,261.4 468.2,253.8" fill="#000"/>
<polyline points="29.799999999999997,294.1 247.4,294.1 247.4,502.7" fill="none" stroke="#2a2a2a" stroke-width="1.2"/>
<line x1="35.8" y1="294.1" x2="35.8" y2="502.7" stroke="#2a2a2a" stroke-width="1.3"/>
<line x1="30.299999999999997" y1="502.7" x2="35.8" y2="502.7" stroke="#2a2a2a" stroke-width="1.2"/>
<line x1="30.299999999999997" y1="461.0" x2="35.8" y2="461.0" stroke="#2a2a2a" stroke-width="1.2"/>
<line x1="30.299999999999997" y1="419.3" x2="35.8" y2="419.3" stroke="#2a2a2a" stroke-width="1.2"/>
<line x1="30.299999999999997" y1="377.5" x2="35.8" y2="377.5" stroke="#2a2a2a" stroke-width="1.2"/>
<line x1="30.299999999999997" y1="335.8" x2="35.8" y2="335.8" stroke="#2a2a2a" stroke-width="1.2"/>
<line x1="30.299999999999997" y1="294.1" x2="35.8" y2="294.1" stroke="#2a2a2a" stroke-width="1.2"/>
<rect x="94.2" y="428.9" width="22.599999999999994" height="73.80000000000001" fill="#000"/>
<rect x="199.2" y="336.3" width="22.80000000000001" height="166.39999999999998" fill="#000"/>
<rect x="117" y="486.4" width="20.80000000000001" height="16.30000000000001" fill="#fff" stroke="#111" stroke-width="1.5"/>
<rect x="222.1" y="493.7" width="21.30000000000001" height="9.0" fill="#fff" stroke="#111" stroke-width="1.5"/>
<line x1="35.8" y1="503.2" x2="247.4" y2="503.2" stroke="#111" stroke-width="2"/>
<line x1="63" y1="502.7" x2="63" y2="508.9" stroke="#111" stroke-width="1.1"/>
<line x1="115.1" y1="502.7" x2="115.1" y2="508.9" stroke="#111" stroke-width="1.1"/>
<line x1="168.4" y1="502.7" x2="168.4" y2="508.9" stroke="#111" stroke-width="1.1"/>
<line x1="220.5" y1="502.7" x2="220.5" y2="508.9" stroke="#111" stroke-width="1.1"/>
<line x1="104.4" y1="422.2" x2="104.4" y2="428.9" stroke="#000" stroke-width="1.2"/>
<line x1="100.75" y1="422.2" x2="108.05000000000001" y2="422.2" stroke="#000" stroke-width="1.5"/>
<line x1="122.55" y1="482" x2="129.45" y2="482" stroke="#000" stroke-width="1.5"/>
<line x1="126" y1="482" x2="126" y2="484.6" stroke="#000" stroke-width="1.2"/>
<line x1="122.55" y1="491.6" x2="129.45" y2="491.6" stroke="#000" stroke-width="1.5"/>
<line x1="126" y1="491.6" x2="126" y2="489.3" stroke="#000" stroke-width="1.2"/>
<line x1="209.6" y1="316.8" x2="209.6" y2="336.3" stroke="#000" stroke-width="1.2"/>
<line x1="205.85" y1="316.8" x2="213.35" y2="316.8" stroke="#000" stroke-width="1.5"/>
<line x1="227.8" y1="490.6" x2="234.8" y2="490.6" stroke="#000" stroke-width="1.5"/>
<line x1="231.3" y1="490.6" x2="231.3" y2="492" stroke="#000" stroke-width="1.2"/>
<line x1="227.8" y1="498.2" x2="234.8" y2="498.2" stroke="#000" stroke-width="1.5"/>
<line x1="231.3" y1="498.2" x2="231.3" y2="496.7" stroke="#000" stroke-width="1.2"/>
<rect x="95" y="303.5" width="67.6" height="43.19999999999999" fill="#fff" stroke="#111" stroke-width="1.4"/>
<rect x="98.3" y="308.8" width="12.5" height="12.5" fill="#000"/>
<rect x="98.8" y="329.9" width="11.5" height="11.5" fill="#fff" stroke="#111" stroke-width="1.2"/>
<text transform="translate(116.33,318.70) scale(1.0073,1)" font-size="12.94" fill="#000" stroke="#000" stroke-width="0.3">Normal</text>
<text transform="translate(116.34,340.10) scale(0.9888,1)" font-size="12.94" fill="#000" stroke="#000" stroke-width="0.3">HIES</text>
<text transform="translate(39.88,310.20) scale(1.0523,1)" font-size="16.72" fill="#000" stroke="#000" stroke-width="0.3">C</text>
<text transform="translate(-0.13,286.30) scale(1.0164,1)" font-size="12.65" fill="#000" stroke="#000" stroke-width="0.3">CD4 T cells: IFN-γ secretion (ng/mL)</text>
<text transform="translate(20.63,507.40) scale(1.1178,1)" font-size="12.79" fill="#000" stroke="#000" stroke-width="0.3">0</text>
<text transform="translate(20.79,465.68) scale(1.0528,1)" font-size="12.79" fill="#000" stroke="#000" stroke-width="0.3">5</text>
<text transform="translate(13.88,423.96) scale(1.0157,1)" font-size="12.79" fill="#000" stroke="#000" stroke-width="0.3">10</text>
<text transform="translate(14.21,382.24) scale(0.9797,1)" font-size="12.79" fill="#000" stroke="#000" stroke-width="0.3">15</text>
<text transform="translate(13.66,340.52) scale(0.9880,1)" font-size="12.79" fill="#000" stroke="#000" stroke-width="0.3">20</text>
<text transform="translate(13.78,298.80) scale(0.9532,1)" font-size="12.79" fill="#000" stroke="#000" stroke-width="0.3">25</text>
<text transform="translate(51.23,497.70) scale(1.0788,1)" font-size="10.32" fill="#000" stroke="#000" stroke-width="0.3">&lt;0.5</text>
<text transform="translate(155.34,497.70) scale(1.0584,1)" font-size="10.32" fill="#000" stroke="#000" stroke-width="0.3">&lt;0.5</text>
<text transform="translate(47.76,521.60) scale(1.0249,1)" font-size="12.94" fill="#000" stroke="#000" stroke-width="0.3">CD3</text>
<text transform="translate(99.67,521.60) scale(0.9968,1)" font-size="12.94" fill="#000" stroke="#000" stroke-width="0.3">CD3</text>
<text transform="translate(101.12,534.30) scale(1.0412,1)" font-size="12.65" fill="#000" stroke="#000" stroke-width="0.3">IL-2</text>
<text transform="translate(155.29,521.60) scale(0.9646,1)" font-size="12.94" fill="#000" stroke="#000" stroke-width="0.3">CD3</text>
<text transform="translate(151.78,534.20) scale(1.0120,1)" font-size="12.65" fill="#000" stroke="#000" stroke-width="0.3">CD28</text>
<text transform="translate(191.67,521.60) scale(0.9916,1)" font-size="12.94" fill="#000" stroke="#000" stroke-width="0.3">CD3/CD28</text>
<text transform="translate(210.58,534.20) scale(1.0838,1)" font-size="12.65" fill="#000" stroke="#000" stroke-width="0.3">IL-2</text>
<text transform="translate(123.77,546.70) scale(1.0371,1)" font-size="12.50" fill="#000" stroke="#000" stroke-width="0.3">Culture</text>
<polyline points="281.8,294.6 499.6,294.6 499.6,503.6" fill="none" stroke="#2a2a2a" stroke-width="1.2"/>
<line x1="287.8" y1="294.6" x2="287.8" y2="503.6" stroke="#2a2a2a" stroke-width="1.3"/>
<line x1="282.3" y1="503.6" x2="287.8" y2="503.6" stroke="#2a2a2a" stroke-width="1.2"/>
<line x1="282.3" y1="461.9" x2="287.8" y2="461.9" stroke="#2a2a2a" stroke-width="1.2"/>
<line x1="282.3" y1="420.2" x2="287.8" y2="420.2" stroke="#2a2a2a" stroke-width="1.2"/>
<line x1="282.3" y1="378.5" x2="287.8" y2="378.5" stroke="#2a2a2a" stroke-width="1.2"/>
<line x1="282.3" y1="336.8" x2="287.8" y2="336.8" stroke="#2a2a2a" stroke-width="1.2"/>
<line x1="282.3" y1="295.1" x2="287.8" y2="295.1" stroke="#2a2a2a" stroke-width="1.2"/>
<rect x="292.9" y="490.9" width="23.5" height="12.700000000000045" fill="#000"/>
<rect x="346.2" y="453.1" width="22.600000000000023" height="50.5" fill="#000"/>
<rect x="398.2" y="389.1" width="23.600000000000023" height="114.5" fill="#000"/>
<rect x="451.4" y="314.9" width="22.200000000000045" height="188.70000000000005" fill="#000"/>
<rect x="473.6" y="475.1" width="21.599999999999966" height="28.5" fill="#fff" stroke="#111" stroke-width="1.5"/>
<line x1="287.8" y1="504.1" x2="499.6" y2="504.1" stroke="#111" stroke-width="2"/>
<line x1="315" y1="503.6" x2="315" y2="509.8" stroke="#111" stroke-width="1.1"/>
<line x1="367.1" y1="503.6" x2="367.1" y2="509.8" stroke="#111" stroke-width="1.1"/>
<line x1="420.2" y1="503.6" x2="420.2" y2="509.8" stroke="#111" stroke-width="1.1"/>
<line x1="472.8" y1="503.6" x2="472.8" y2="509.8" stroke="#111" stroke-width="1.1"/>
<line x1="356.4" y1="451.2" x2="356.4" y2="453.1" stroke="#000" stroke-width="1.2"/>
<line x1="352.9" y1="451.2" x2="359.9" y2="451.2" stroke="#000" stroke-width="1.5"/>
<line x1="409.4" y1="382.5" x2="409.4" y2="389.1" stroke="#000" stroke-width="1.2"/>
<line x1="405.9" y1="382.5" x2="412.9" y2="382.5" stroke="#000" stroke-width="1.5"/>
<line x1="461.7" y1="303.2" x2="461.7" y2="314.9" stroke="#000" stroke-width="1.2"/>
<line x1="457.9" y1="303.2" x2="465.5" y2="303.2" stroke="#000" stroke-width="1.5"/>
<rect x="351.2" y="304.5" width="67.40000000000003" height="43.30000000000001" fill="#fff" stroke="#111" stroke-width="1.4"/>
<rect x="354.7" y="310.2" width="13.0" height="12.5" fill="#000"/>
<rect x="355.2" y="331.0" width="12.0" height="11.600000000000023" fill="#fff" stroke="#111" stroke-width="1.2"/>
<text transform="translate(372.53,320.00) scale(1.0096,1)" font-size="12.94" fill="#000" stroke="#000" stroke-width="0.3">Normal</text>
<text transform="translate(372.53,341.50) scale(1.0027,1)" font-size="12.94" fill="#000" stroke="#000" stroke-width="0.3">HIES</text>
<text transform="translate(294.50,310.70) scale(0.9952,1)" font-size="18.02" fill="#000" stroke="#000" stroke-width="0.3">D</text>
<text transform="translate(326.33,286.00) scale(1.0149,1)" font-size="12.79" fill="#000" stroke="#000" stroke-width="0.3">IL-10 secretion (ng/mL)</text>
<text transform="translate(275.27,507.80) scale(1.1155,1)" font-size="12.06" fill="#000" stroke="#000" stroke-width="0.3">0</text>
<text transform="translate(264.68,466.10) scale(1.0763,1)" font-size="12.06" fill="#000" stroke="#000" stroke-width="0.3">1.0</text>
<text transform="translate(264.44,424.40) scale(1.0909,1)" font-size="12.06" fill="#000" stroke="#000" stroke-width="0.3">2.0</text>
<text transform="translate(264.60,382.70) scale(1.0813,1)" font-size="12.06" fill="#000" stroke="#000" stroke-width="0.3">3.0</text>
<text transform="translate(264.70,341.00) scale(1.0750,1)" font-size="12.06" fill="#000" stroke="#000" stroke-width="0.3">4.0</text>
<text transform="translate(264.20,299.30) scale(1.0877,1)" font-size="12.06" fill="#000" stroke="#000" stroke-width="0.3">5.0</text>
<text transform="translate(317.74,501.00) scale(1.0722,1)" font-size="10.17" fill="#000" stroke="#000" stroke-width="0.3">&lt;50</text>
<text transform="translate(370.03,501.00) scale(1.1027,1)" font-size="10.17" fill="#000" stroke="#000" stroke-width="0.3">&lt;50</text>
<text transform="translate(423.82,501.00) scale(1.1149,1)" font-size="10.17" fill="#000" stroke="#000" stroke-width="0.3">&lt;50</text>
<text transform="translate(298.17,521.40) scale(1.0279,1)" font-size="12.65" fill="#000" stroke="#000" stroke-width="0.3">CD3</text>
<text transform="translate(294.97,533.90) scale(1.0216,1)" font-size="12.65" fill="#000" stroke="#000" stroke-width="0.3">CD28</text>
<text transform="translate(348.79,521.40) scale(0.9607,1)" font-size="12.65" fill="#000" stroke="#000" stroke-width="0.3">+IL-21</text>
<text transform="translate(404.23,521.20) scale(1.0649,1)" font-size="12.65" fill="#000" stroke="#000" stroke-width="0.3">+IL-2</text>
<text transform="translate(456.24,521.20) scale(1.0545,1)" font-size="12.65" fill="#000" stroke="#000" stroke-width="0.3">+IL-2</text>
<text transform="translate(456.37,533.70) scale(1.0012,1)" font-size="12.35" fill="#000" stroke="#000" stroke-width="0.3">IL-21</text>
<text transform="translate(378.27,545.90) scale(1.0395,1)" font-size="12.50" fill="#000" stroke="#000" stroke-width="0.3">Culture</text>
</g>
</svg>
</body></html>
